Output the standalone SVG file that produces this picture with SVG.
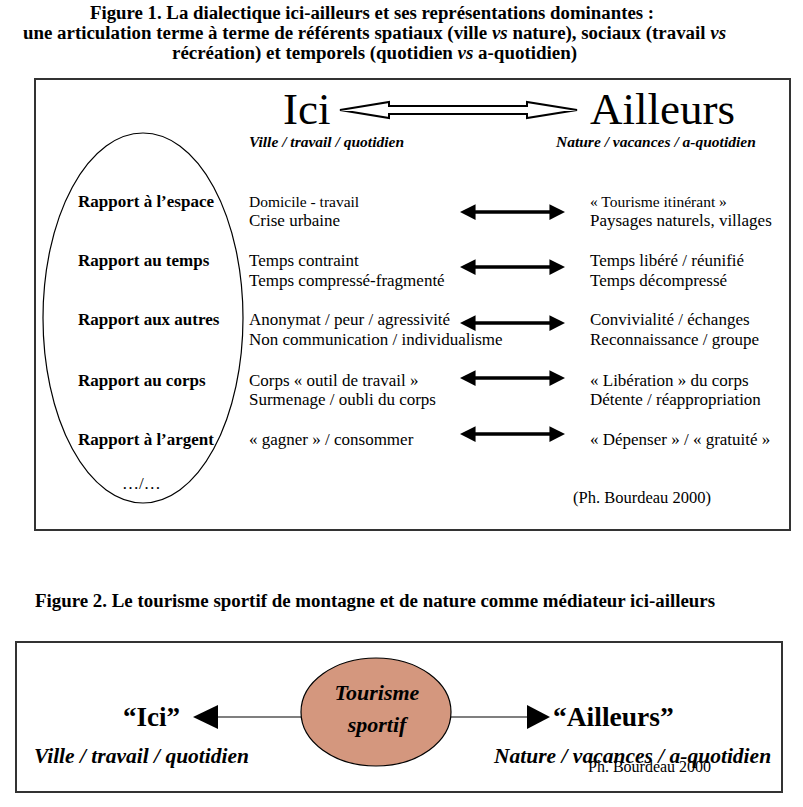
<svg xmlns="http://www.w3.org/2000/svg" width="803" height="807" viewBox="0 0 803 807">
<style>
text{font-family:"Liberation Serif","Times New Roman",serif;fill:#000}
.t{font-weight:bold;font-size:18px}
.lab{font-weight:bold;font-size:17px}
.r{font-size:17px}
.s{font-size:15.5px}
.bi{font-weight:bold;font-style:italic}
.box{fill:#fff;stroke:#333;stroke-width:2}
</style>
<defs>
<marker id="ah" viewBox="0 0 10 10" refX="1" refY="5" markerWidth="4.5" markerHeight="4.5" orient="auto-start-reverse" markerUnits="strokeWidth">
<path d="M0,0 L10,5 L0,10 z" fill="#000"/>
</marker>
</defs>
<rect width="803" height="807" fill="#fff"/>

<g id="title1" class="t">
<text x="90" y="19" textLength="564" lengthAdjust="spacingAndGlyphs">Figure 1. La dialectique ici-ailleurs et ses représentations dominantes :</text>
<text x="23" y="39" textLength="703" lengthAdjust="spacingAndGlyphs">une articulation terme à terme de référents spatiaux (ville <tspan font-style="italic">vs</tspan> nature), sociaux (travail <tspan font-style="italic">vs</tspan></text>
<text x="172" y="59" textLength="405" lengthAdjust="spacingAndGlyphs">récréation) et temporels (quotidien <tspan font-style="italic">vs</tspan> a-quotidien)</text>
</g>

<rect class="box" x="35" y="79" width="755" height="451"/>

<g id="ici">
<text x="283" y="124" font-size="45">Ici</text>
<text x="249" y="147" class="bi" font-size="15.5">Ville / travail / quotidien</text>
</g>
<g id="ailleurs">
<text x="590" y="124" font-size="45">Ailleurs</text>
<text x="556" y="147" class="bi" font-size="15.5">Nature / vacances / a-quotidien</text>
</g>

<g id="rapports">
<ellipse cx="143" cy="318" rx="100" ry="185" fill="none" stroke="#000" stroke-width="1.2"/>
<text class="lab" x="78" y="207">Rapport à l’espace</text>
<text class="lab" x="78" y="266">Rapport au temps</text>
<text class="lab" x="78" y="325">Rapport aux autres</text>
<text class="lab" x="78" y="386">Rapport au corps</text>
<text class="lab" x="78" y="445">Rapport à l’argent</text>
<text class="r" x="122" y="489">…/…</text>
</g>

<g id="ici-items">
<text class="s" x="249" y="207">Domicile - travail</text>
<text class="r" x="249" y="226">Crise urbaine</text>
<text class="r" x="249" y="266">Temps contraint</text>
<text class="r" x="249" y="286">Temps compressé-fragmenté</text>
<text class="r" x="249" y="325">Anonymat / peur / agressivité</text>
<text class="r" x="249" y="345">Non communication / individualisme</text>
<text class="r" x="249" y="386">Corps « outil de travail »</text>
<text class="r" x="249" y="405">Surmenage / oubli du corps</text>
<text class="r" x="249" y="445">« gagner » / consommer</text>
</g>

<g id="ailleurs-items">
<text class="s" x="590" y="207">« Tourisme itinérant »</text>
<text class="r" x="590" y="226">Paysages naturels, villages</text>
<text class="r" x="590" y="266">Temps libéré / réunifié</text>
<text class="r" x="590" y="286">Temps décompressé</text>
<text class="r" x="590" y="325">Convivialité / échanges</text>
<text class="r" x="590" y="345">Reconnaissance / groupe</text>
<text class="r" x="590" y="386">« Libération » du corps</text>
<text class="r" x="590" y="405">Détente / réappropriation</text>
<text class="r" x="590" y="445">« Dépenser » / « gratuité »</text>
</g>

<text x="573" y="503" font-size="16.5">(Ph. Bourdeau 2000)</text>

<g id="connectors1">
<polygon points="340,110 389,102 389,106 527,106 527,102 577,110 527,118 527,114 389,114 389,118" fill="#fff" stroke="#000" stroke-width="2" stroke-linejoin="miter"/>
<g stroke="#000" stroke-width="3.5" marker-start="url(#ah)" marker-end="url(#ah)">
<line x1="474" y1="212" x2="551" y2="212"/>
<line x1="474" y1="267" x2="551" y2="267"/>
<line x1="474" y1="323" x2="551" y2="323"/>
<line x1="474" y1="378" x2="551" y2="378"/>
<line x1="474" y1="434" x2="551" y2="434"/>
</g>
</g>

<g id="title2">
<text class="t" x="35" y="607" textLength="680" lengthAdjust="spacingAndGlyphs">Figure 2. Le tourisme sportif de montagne et de nature comme médiateur ici-ailleurs</text>
</g>

<rect class="box" x="16" y="642" width="766" height="150"/>

<g id="connectors2" stroke="#000" stroke-width="1.2">
<line x1="218" y1="717" x2="301" y2="717"/>
<polygon points="193,717 218,705 218,729" fill="#000" stroke="none"/>
<line x1="451" y1="717" x2="527" y2="717"/>
<polygon points="550,717 527,705 527,729" fill="#000" stroke="none"/>
</g>

<g id="tourisme">
<ellipse cx="376" cy="712" rx="75" ry="54" fill="#D4977E" stroke="#000" stroke-width="1.2"/>
<text x="377" y="700" class="bi" font-size="22" text-anchor="middle">Tourisme</text>
<text x="377" y="732" class="bi" font-size="22" text-anchor="middle">sportif</text>
</g>

<g id="ici2">
<text x="123" y="726" font-weight="bold" font-size="27">“Ici”</text>
<text x="34" y="763" class="bi" font-size="21.5">Ville / travail / quotidien</text>
</g>
<g id="ailleurs2">
<text x="553" y="726" font-weight="bold" font-size="27.5">“Ailleurs”</text>
<text x="494" y="763" class="bi" font-size="21.5">Nature / vacances / a-quotidien</text>
<text x="588" y="772" font-size="16">Ph. Bourdeau 2000</text>
</g>
</svg>
